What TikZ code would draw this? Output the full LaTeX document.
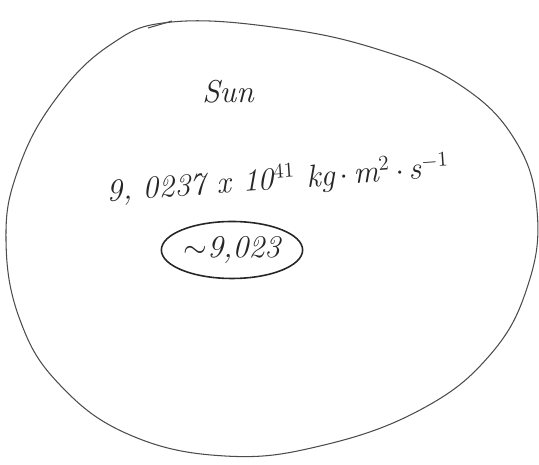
\documentclass[tikz,border=0pt]{standalone}
\usepackage{amsmath,amssymb}
\usepackage{xcolor}
\usepackage{tikz}
\usetikzlibrary{shapes.geometric, positioning}

\begin{document}
\begin{tikzpicture}[
    x=0.02cm, y=-0.02cm,
    blob/.style={draw=black!70, line width=0.6pt},
    hand/.style={font=\fontsize{18}{20}\selectfont\itshape, text=black!85},
    approx/.style={ellipse, draw=black!85, line width=0.9pt, minimum width=2.3cm, minimum height=1.14cm, inner sep=1pt}
]
  \useasboundingbox (0,0) rectangle (539,465);

  % Sun outline
  \draw[blob] plot[smooth cycle, tension=0.7] coordinates {
    (172,22) (110,45) (55,100) (18,170) (6,240) (20,320) (60,385)
    (130,435) (225,456) (320,446) (420,410) (490,355) (528,285)
    (537,210) (515,140) (460,85) (380,50) (280,28)};
  \draw[blob] (148,28) -- (172,21);

  % Labels
  \node[hand] (name) at (228,92) {Sun};
  \node[hand, rotate=4] (value) at (278,180) {9, 0237 x 10$^{41}$ kg\,$\cdot$\,m$^{2}$\,$\cdot$\,s$^{-1}$};
  \node[hand, approx] (round) at (232,250) {$\sim$9,023};
\end{tikzpicture}
\end{document}
